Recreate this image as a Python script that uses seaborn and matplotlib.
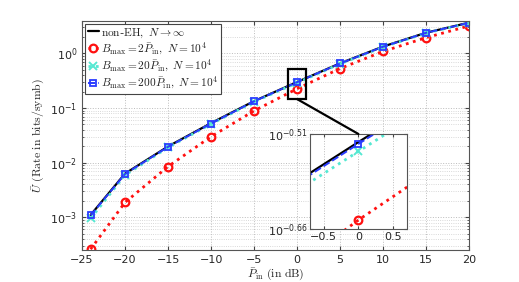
import matplotlib
matplotlib.use('Agg')
import matplotlib.pyplot as plt
from matplotlib.patches import Rectangle, ConnectionPatch
from matplotlib.font_manager import FontProperties
from matplotlib.ticker import NullLocator, NullFormatter
import numpy as np
import seaborn as sns

# data
p_in_db = [-24, -20, -15, -10, -5, 0, 5, 10, 15, 20]
rate_non_eh = [1.10e-3, 6.3e-3, 0.0198, 0.053, 0.134, 0.300, 0.66, 1.34, 2.40, 3.67]
rate_b2 = [2.6e-4, 1.87e-3, 8.5e-3, 0.030, 0.089, 0.226, 0.53, 1.09, 1.95, 3.20]
rate_b20 = [0.95e-3, 5.9e-3, 0.0190, 0.051, 0.130, 0.290, 0.645, 1.31, 2.36, 3.62]
rate_b200 = [1.08e-3, 6.2e-3, 0.0195, 0.052, 0.133, 0.298, 0.655, 1.33, 2.39, 3.65]

labels = [r'$\mathrm{non}$-$\mathrm{EH},\ N \rightarrow \infty$',
          r'$B_{\max} = 2\bar{P}_{\mathrm{in}},\ N = 10^4$',
          r'$B_{\max} = 20\bar{P}_{\mathrm{in}},\ N = 10^4$',
          r'$B_{\max} = 200\bar{P}_{\mathrm{in}},\ N = 10^4$']

sns.set_style('ticks')
plt.rcParams['font.family'] = ['DejaVu Sans']

red = '#ff1010'
cyan = '#55e8d2'
blue = '#2a3cff'

# (line style, marker style) per series
styles = [
    (rate_non_eh, dict(color='black', linestyle='-', linewidth=1.6), None),
    (rate_b2, dict(color=red, linestyle=':', linewidth=2),
     dict(marker='o', markersize=5.5, markerfacecolor='none', markeredgewidth=1.6)),
    (rate_b20, dict(color=cyan, linestyle=':', linewidth=2),
     dict(marker='x', markersize=5.5, markeredgewidth=1.4)),
    (rate_b200, dict(color=blue, linestyle='--', linewidth=1.4),
     dict(marker='s', markersize=5, markerfacecolor='none', markeredgewidth=1.3)),
]


def draw(axis, with_labels):
    for (vals, kw, mk), lab in zip(styles, labels):
        sns.lineplot(x=p_in_db, y=vals, ax=axis, label=lab if with_labels else None,
                     legend=with_labels, **kw)
        line = axis.lines[-1]
        if mk:
            line.set_marker(mk['marker'])
            line.set_markersize(mk['markersize'])
            line.set_markeredgewidth(mk['markeredgewidth'])
            line.set_markeredgecolor(kw['color'])
            line.set_markerfacecolor(mk.get('markerfacecolor', kw['color']))


fig = plt.figure(figsize=(5.19, 2.82), dpi=100)
ax = fig.add_axes([0.158, 0.113, 0.746, 0.814])
draw(ax, True)

ax.set_yscale('log')
ax.set_xlim(-25, 20)
ax.set_ylim(2.5e-4, 4)
ax.set_xticks(np.arange(-25, 21, 5))
ax.grid(True, which='major', axis='both', linestyle=':', color='#bbbbbb', linewidth=0.7)
ax.grid(True, which='minor', axis='y', linestyle=':', color='#cccccc', linewidth=0.6)
ax.tick_params(which='both', direction='in', top=True, right=True, labelsize=8, color='#444444')
ax.tick_params(which='major', length=3)
ax.tick_params(which='minor', length=1.5)
for s in ax.spines.values():
    s.set_color('#555555')
    s.set_linewidth(0.8)

ax.set_xlabel(r'$\bar{P}_{\mathrm{in}}\ \mathrm{(in\ dB)}$', fontsize=8.5, math_fontfamily='cm', labelpad=1)
ax.set_ylabel(r'$\bar{U}\ \mathrm{(Rate\ in\ bits/symb)}$', fontsize=8.5, math_fontfamily='cm', labelpad=2)

leg = ax.legend(loc='upper left', prop=FontProperties(size=8.2, math_fontfamily='cm'),
                handlelength=1.0, handletextpad=0.2, borderpad=0.2, labelspacing=0.1,
                borderaxespad=0.3, fancybox=False, framealpha=1)
leg.get_frame().set_edgecolor('#444444')
leg.get_frame().set_linewidth(0.8)

# zoom box on main axes
ax.add_patch(Rectangle((-1, 0.146), 2, 0.51 - 0.146, fill=False, edgecolor='black',
                       linewidth=1.6, zorder=5))

# inset
axin = fig.add_axes([0.597, 0.188, 0.187, 0.337])
draw(axin, False)
axin.set_yscale('log')
axin.set_xlim(-0.7, 0.7)
axin.set_ylim(10 ** -0.66, 10 ** -0.51)
axin.set_xticks([-0.5, 0, 0.5])
axin.set_xticklabels(['\u22120.5', '0', '0.5'])
axin.yaxis.set_minor_locator(NullLocator())
axin.yaxis.set_minor_formatter(NullFormatter())
axin.set_yticks([10 ** -0.66, 10 ** -0.51])
axin.set_yticklabels([r'$10^{-0.66}$', r'$10^{-0.51}$'])
axin.grid(True, linestyle=':', color='#bbbbbb', linewidth=0.7)
axin.tick_params(direction='in', top=True, right=True, labelsize=8, length=2, pad=2, color='#444444')
axin.set_facecolor('white')
for s in axin.spines.values():
    s.set_color('#555555')
    s.set_linewidth(0.8)

con = ConnectionPatch(xyA=(0, 0.146), coordsA=ax.transData,
                      xyB=(0, 10 ** -0.51), coordsB=axin.transData,
                      color='black', linewidth=1.6)
fig.add_artist(con)

fig.savefig('out.png', dpi=100)
